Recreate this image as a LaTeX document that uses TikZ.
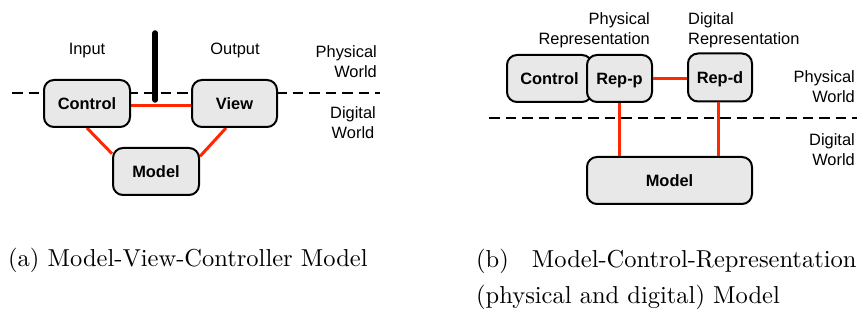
\documentclass[tikz,border=0pt]{standalone}
\usepackage{fontspec}
\newfontfamily\hv{Liberation Sans}
\newfontfamily\capfont{lmroman10-regular}[Extension=.otf]
\usetikzlibrary{backgrounds}
\definecolor{redline}{RGB}{255,40,0}
\definecolor{boxfill}{RGB}{232,232,232}
\tikzset{
  box/.style={draw=black, line width=2pt, fill=boxfill, rounded corners=10pt,
    inner sep=0pt, text height=11.8pt, text depth=0pt,
    font=\hv\bfseries\fontsize{16.4}{20}\selectfont},
  lab/.style={inner sep=0pt, font=\hv\fontsize{16.4}{20}\selectfont},
  link/.style={draw=redline, line width=3pt},
  world/.style={draw=black, line width=2pt, dash pattern=on 10.5pt off 6pt},
  bar/.style={draw=black, line width=5.5pt, line cap=round},
  captext/.style={inner sep=0pt, font=\capfont\fontsize{24.5}{36}\selectfont}
}
\begin{document}
\begin{tikzpicture}[x=1pt, y=-1pt]
\useasboundingbox (0,0) rectangle (857,320);
% ---------- (a) ----------
\coordinate (dla) at (12,93.3);
\coordinate (dlb) at (380,93.3);
\draw[world] (dla) -- (dlb);
\node[box, minimum width=86pt, minimum height=47pt] (ctl) at (87,103.5) {Control};
\node[box, minimum width=85pt, minimum height=47pt] (view) at (234.5,103.5) {View};
\node[box, minimum width=86pt, minimum height=47pt] (model) at (156,171.5) {Model};
\begin{scope}[on background layer]
  \draw[link] ([yshift=-2pt]ctl.east) -- ([yshift=-2pt]view.west);
  \draw[link] (ctl.south) -- (model.158);
  \draw[link] ([xshift=-8.5pt]view.south) -- (model.19);
\end{scope}
\coordinate (bart) at (155.2,33);
\coordinate (barb) at (155.2,100);
\draw[bar] (bart) -- (barb);
\node[lab, anchor=base] (inp) at (87,55) {Input};
\node[lab, anchor=base] (outp) at (235,55) {Output};
\node[lab, anchor=north east, align=right] (pwa) at (377,45.8) {Physical\\World};
\node[lab, anchor=north, align=center] (dwa) at (353,106.8) {Digital\\World};
\node[captext, anchor=base west] (capa) at (8,267) {(a) Model-View-Controller Model};
% ---------- (b) ----------
\coordinate (dra) at (489,118.3);
\coordinate (drb) at (857,118.3);
\draw[world] (dra) -- (drb);
\node[box, minimum width=85pt, minimum height=47pt] (ctlb) at (549.5,78.5) {Control};
\node[box, minimum width=65pt, minimum height=47pt] (repp) at (619.5,78.5) {Rep-p};
\node[box, minimum width=64pt, minimum height=48pt] (repd) at (720,77.5) {Rep-d};
\node[box, minimum width=165pt, minimum height=47pt] (modelb) at (669.5,180.5) {Model};
\draw[link] ([yshift=-0.5pt]repp.east) -- ([yshift=-0.5pt]repp.east -| repd.west);
\draw[link] (repp.south) -- (repp.south |- modelb.north);
\draw[link] ([xshift=-2pt]repd.south) -- ([xshift=-2pt]repd.south |- modelb.north);
\node[lab, anchor=north east, align=right] (prep) at (650,12.5) {Physical\\Representation};
\node[lab, anchor=north west, align=left] (drep) at (688,12.5) {Digital\\Representation};
\node[lab, anchor=north east, align=right] (pwb) at (855,70.8) {Physical\\World};
\node[lab, anchor=north east, align=right] (dwb) at (855,133) {Digital\\World};
\node[captext, anchor=north west, align=left] (capb) at (476,248.6)
  {(b)\hspace{23pt}Model-Control-Representation\\(physical and digital) Model};
\end{tikzpicture}
\end{document}
